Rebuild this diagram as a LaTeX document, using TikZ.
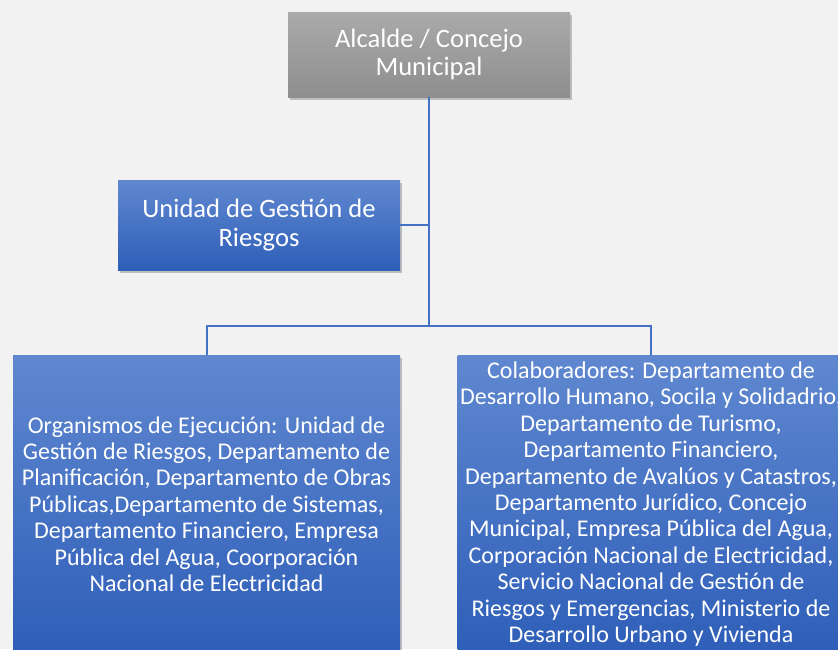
\documentclass[tikz,border=0pt]{standalone}
\usepackage{fontspec}
\setmainfont{Carlito}
\usetikzlibrary{shadows}
\definecolor{linkblue}{HTML}{4472C4}
\definecolor{boxtop}{HTML}{6088D0}
\definecolor{boxbot}{HTML}{2E5EB8}
\definecolor{graytop}{HTML}{AAAAAA}
\definecolor{graybot}{HTML}{8E8E8E}
\definecolor{paper}{HTML}{F2F2F2}
\begin{document}
\begin{tikzpicture}[x=1pt,y=-1pt,
 box/.style={rectangle,inner sep=0pt,text=white,align=center,
   drop shadow={opacity=0.45,shadow xshift=2pt,shadow yshift=-3pt}},
 chief/.style={box,top color=graytop,bottom color=graybot,minimum width=282pt,minimum height=85pt,
   font=\fontsize{26.6}{28.5}\selectfont},
 unit/.style={box,top color=boxtop,bottom color=boxbot,minimum width=282pt,minimum height=90pt,
   font=\fontsize{26.6}{28.5}\selectfont},
 group/.style={box,top color=boxtop,bottom color=boxbot,minimum width=387pt,minimum height=298pt,
   font=\fontsize{24}{26.4}\selectfont},
 link/.style={draw=linkblue,line width=2pt}]
\clip (0,0) rectangle (838,649);
\fill[paper] (0,0) rectangle (838,649);
\node[chief] (mayor) at (429,54.5) {Alcalde / Concejo\\Municipal};
\node[unit] (risk) at (259,225) {Unidad de Gestión de\\Riesgos};
\coordinate (hub) at (429,325.5);
\draw[link] (mayor.south) -- (hub);
\draw[link] (risk.east) -- (risk.east -| hub);
\node[group] (exec) at (206.5,504) {Organismos de Ejecución: Unidad de\\Gestión de Riesgos, Departamento de\\Planificación, Departamento de Obras\\Públicas,Departamento de Sistemas,\\Departamento Financiero, Empresa\\Pública del Agua, Coorporación\\Nacional de Electricidad};
\node[group] (collab) at (651,504) {Colaboradores: Departamento de\\Desarrollo Humano, Socila y Solidadrio,\\Departamento de Turismo,\\Departamento Financiero,\\Departamento de Avalúos y Catastros,\\Departamento Jurídico, Concejo\\Municipal, Empresa Pública del Agua,\\Corporación Nacional de Electricidad,\\Servicio Nacional de Gestión de\\Riesgos y Emergencias, Ministerio de\\Desarrollo Urbano y Vivienda};
\draw[link] (exec.north) |- (hub) -| (collab.north);
\end{tikzpicture}
\end{document}
